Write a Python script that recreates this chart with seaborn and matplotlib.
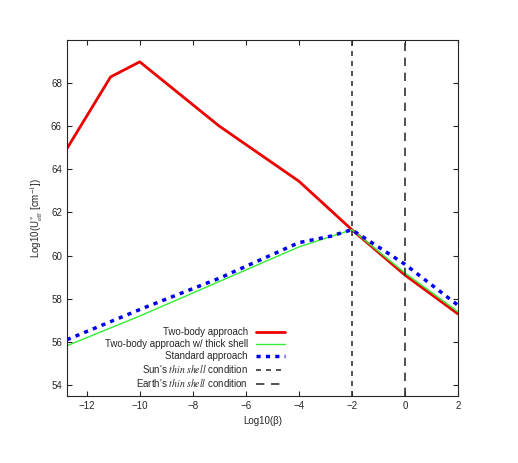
import matplotlib
matplotlib.use("Agg")
import matplotlib.pyplot as plt
import seaborn as sns
import pandas as pd

sns.set_style("ticks")
plt.rcParams['font.family'] = ['Liberation Sans', 'DejaVu Sans']
plt.rcParams['mathtext.fontset'] = 'stix'

red_x = [-12.75, -11.1, -10, -7, -4, -2, 0, 2]
red_y = [64.95, 68.28, 68.98, 66.0, 63.45, 61.2, 59.1, 57.3]
green_x = [-12.75, -10, -7, -4, -2, 0, 2]
green_y = [55.82, 57.2, 58.8, 60.4, 61.2, 59.2, 57.4]
blue_x = [-12.75, -9.8, -7, -4, -2.8, -2, 0, 2]
blue_y = [56.1, 57.6, 58.95, 60.6, 60.9, 61.2, 59.6, 57.7]
sun_x = -2
earth_x = 0

fig = plt.figure(figsize=(5.18, 4.63), dpi=100)
ax = fig.add_axes([0.129, 0.145, 0.755, 0.769])
sns.lineplot(data=pd.DataFrame({'x': red_x, 'y': red_y}), x='x', y='y', ax=ax, color='#ee0000', lw=2, label='Two-body approach')
sns.lineplot(data=pd.DataFrame({'x': green_x, 'y': green_y}), x='x', y='y', ax=ax, color='#33ee33', lw=1, label='Two-body approach w/ thick shell')
sns.lineplot(data=pd.DataFrame({'x': blue_x, 'y': blue_y}), x='x', y='y', ax=ax, color='#0000ee', lw=2.5, ls=(0, (1.2, 1.5)), label='Standard approach')
ax.axvline(sun_x, color='#333333', lw=1.2, ls=(0, (3, 3)), label="Sun's $\\it{thin\\ shell}$ condition")
ax.axvline(earth_x, color='#333333', lw=1.2, ls=(0, (5, 4)), label="Earth's $\\it{thin\\ shell}$ condition")
ax.set_xlim(-12.75, 2)
ax.set_ylim(53.5, 70)
ax.set_xticks(range(-12, 3, 2))
ax.set_yticks(range(54, 70, 2))
ax.tick_params(direction='in', labelsize=7, top=True, right=True)
ax.set_xlabel('Log10(β)', fontsize=7)
ax.set_ylabel('Log10(U$^*_{\\rm eff}$ [cm$^{-1}$])', fontsize=7)
leg = ax.legend(loc='lower right', bbox_to_anchor=(0.0, 0.0, 0.575, 1), bbox_transform=ax.transAxes,
                frameon=False, markerfirst=False, fontsize=7, handlelength=3,
                labelspacing=0.2, borderaxespad=0.3, alignment='right')
for t in leg.get_texts():
    t.set_ha('right')
fig.savefig('out.png', dpi=100)
